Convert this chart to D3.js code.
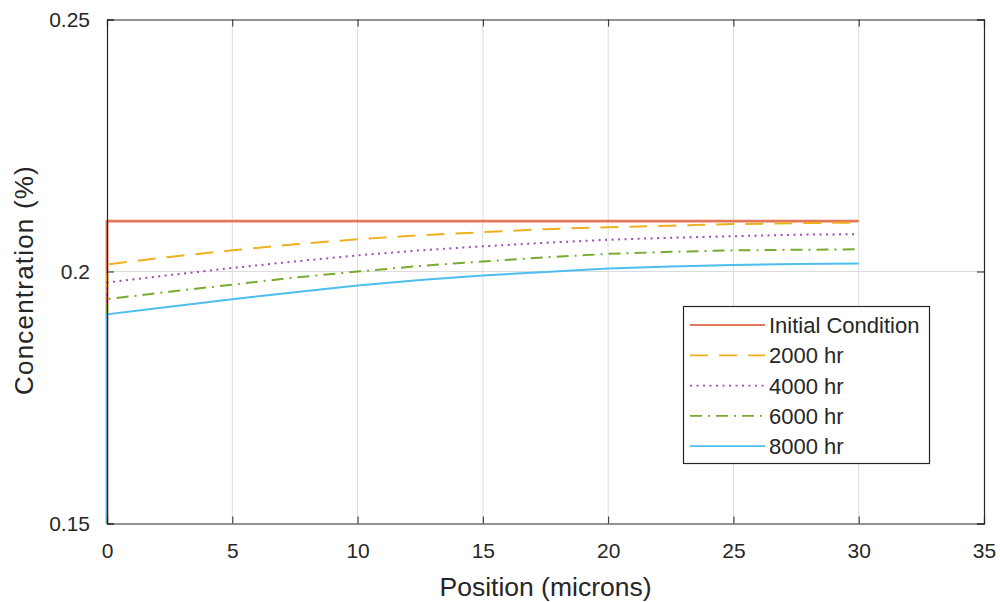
<!DOCTYPE html>
<html><head><meta charset="utf-8">
<script src="https://cdn.jsdelivr.net/npm/d3@7"></script>
<style>body{margin:0;background:#fff}svg{display:block}text{font-family:"Liberation Sans",Arial,sans-serif;fill:#262626}</style>
</head><body>
<svg id="c" width="1000" height="602"></svg>
<script>
// ---- data ----
const positions = [0, 2.5, 5, 7.5, 10, 12.5, 15, 17.5, 20, 22.5, 25, 27.5, 30];
const boundaryValue = 0.15;
const initialCondition = [0.21, 0.21, 0.21, 0.21, 0.21, 0.21, 0.21, 0.21, 0.21, 0.21, 0.21, 0.21, 0.21];
const hr2000 = [0.2014, 0.2029, 0.2042, 0.2054, 0.2064, 0.2072, 0.2078, 0.2084, 0.2088, 0.2091, 0.2094, 0.2096, 0.2097];
const hr4000 = [0.1978, 0.1993, 0.2007, 0.2020, 0.2032, 0.2042, 0.2050, 0.2057, 0.2063, 0.2067, 0.2070, 0.2073, 0.2074];
const hr6000 = [0.1945, 0.1960, 0.1974, 0.1988, 0.2000, 0.2011, 0.2020, 0.2028, 0.2035, 0.2039, 0.2042, 0.2043, 0.2044];
const hr8000 = [0.1915, 0.1930, 0.1945, 0.1959, 0.1972, 0.1983, 0.1992, 0.1999, 0.2006, 0.2010, 0.2013, 0.2015, 0.2016];
const seriesNames = ["Initial Condition", "2000 hr", "4000 hr", "6000 hr", "8000 hr"];
const xTicks = [0, 5, 10, 15, 20, 25, 30, 35];
const yTicks = [0.15, 0.2, 0.25];
const xLabel = "Position (microns)";
const yLabel = "Concentration (%)";

// ---- styles ----
const styles = [
  {color:"#E2775A", width:2.8, dash:null},
  {color:"#EDB120", width:2, dash:"18,11"},
  {color:"#9B4DB3", width:2, dash:"2,4.5"},
  {color:"#77AC30", width:2, dash:"12,6,2,6"},
  {color:"#4DBEEE", width:2, dash:null}
];
const seriesVals = [initialCondition, hr2000, hr4000, hr6000, hr8000];

const svg = d3.select("#c");
const L = 107, R = 984, T = 19.5, B = 523.5;
const x = d3.scaleLinear().domain([0, 35]).range([L, R]);
const y = d3.scaleLinear().domain([0.15, 0.25]).range([B, T]);
const axisCol = "#262626";

// grid
const g = svg.append("g");
g.selectAll(".gx").data(xTicks.filter(d => d > 0 && d < 35)).enter().append("line")
  .attr("x1", d => x(d)).attr("x2", d => x(d)).attr("y1", T).attr("y2", B)
  .attr("stroke", "#dcdcdc").attr("stroke-width", 1);
g.selectAll(".gy").data(yTicks.filter(d => d > 0.15 && d < 0.25)).enter().append("line")
  .attr("x1", L).attr("x2", R).attr("y1", d => y(d)).attr("y2", d => y(d))
  .attr("stroke", "#dcdcdc").attr("stroke-width", 1);

// series
const line = d3.line().x(d => x(d[0])).y(d => y(d[1]));
seriesVals.forEach((vals, i) => {
  const pts = [[positions[0], boundaryValue]].concat(positions.map((p, j) => [p, vals[j]]));
  const p = svg.append("path").datum(pts).attr("d", line).attr("fill", "none")
    .attr("stroke", styles[i].color).attr("stroke-width", styles[i].width);
  if (styles[i].dash) p.attr("stroke-dasharray", styles[i].dash);
});

// axes
const tickLen = 7;
const ax = svg.append("g").attr("transform", `translate(0,${B})`)
  .call(d3.axisBottom(x).tickValues(xTicks).tickSize(-tickLen).tickPadding(tickLen + 13).tickFormat(d3.format("d")));
const ay = svg.append("g").attr("transform", `translate(${L},0)`)
  .call(d3.axisLeft(y).tickValues(yTicks).tickSize(-tickLen).tickPadding(tickLen + 10).tickFormat(d => d === 0.2 ? "0.2" : d3.format(".2f")(d)));
const axTop = svg.append("g").attr("transform", `translate(0,${T})`)
  .call(d3.axisTop(x).tickValues(xTicks).tickSize(-tickLen).tickFormat(""));
const ayR = svg.append("g").attr("transform", `translate(${R},0)`)
  .call(d3.axisRight(y).tickValues(yTicks).tickSize(-tickLen).tickFormat(""));
[ax, ay, axTop, ayR].forEach(a => {
  a.select(".domain").attr("stroke", axisCol).attr("stroke-width", 1.2);
  a.selectAll(".tick line").attr("stroke", axisCol).attr("stroke-width", 1);
  a.selectAll(".tick text").attr("fill", axisCol).style("font-size", "21px")
    .style("font-family", '"Liberation Sans", Arial, sans-serif');
});

// labels
svg.append("text").attr("x", 545.5).attr("y", 596).attr("text-anchor", "middle")
  .style("font-size", "26.5px").text(xLabel);
svg.append("text").attr("transform", `translate(33,280) rotate(-90)`).attr("text-anchor", "middle")
  .style("font-size", "26px").style("letter-spacing", "1.2px").text(yLabel);

// legend
const lg = svg.append("g");
lg.append("rect").attr("x", 683.5).attr("y", 306.5).attr("width", 246).attr("height", 157)
  .attr("fill", "#fff").attr("stroke", axisCol).attr("stroke-width", 1.2);
seriesNames.forEach((name, i) => {
  const yy = 325 + i * 30.3;
  const l = lg.append("line").attr("x1", 690).attr("x2", 765).attr("y1", yy).attr("y2", yy)
    .attr("stroke", styles[i].color).attr("stroke-width", i === 0 ? 2 : 1.8);
  if (styles[i].dash) l.attr("stroke-dasharray", styles[i].dash);
  lg.append("text").attr("x", 769).attr("y", yy).attr("dy", "0.36em")
    .style("font-size", "22px").text(name);
});
</script>
</body></html>
